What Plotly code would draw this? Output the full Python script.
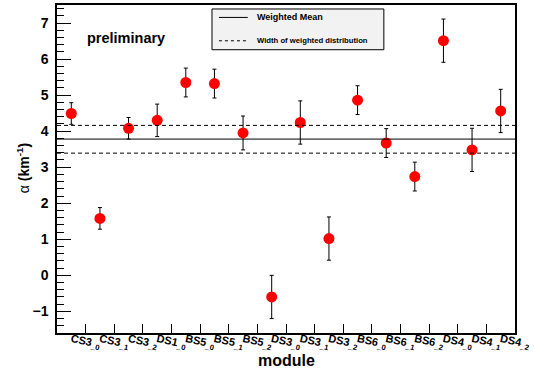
import plotly.graph_objects as go

modules = ["CS3_0", "CS3_1", "CS3_2", "DS1_0", "BS5_0", "BS5_1", "BS5_2", "DS3_0",
           "DS3_1", "DS3_2", "BS6_0", "BS6_1", "BS6_2", "DS4_0", "DS4_1", "DS4_2"]
alpha = [4.49, 1.58, 4.08, 4.30, 5.35, 5.32, 3.95, -0.60,
         4.24, 1.02, 4.86, 3.67, 2.74, 6.51, 3.48, 4.56]
alpha_err = [0.30, 0.30, 0.30, 0.45, 0.40, 0.40, 0.47, 0.60,
             0.60, 0.60, 0.40, 0.40, 0.40, 0.60, 0.60, 0.60]
weighted_mean = 3.78
width_low = 3.39
width_high = 4.16

tick_labels = [m.split("_")[0] + "<sub>_" + m.split("_")[1] + "</sub>" for m in modules]

FONT = "Liberation Sans, Arial, Helvetica, sans-serif"

fig = go.Figure()
fig.add_trace(go.Scatter(
    x=modules, y=alpha, mode="markers",
    marker=dict(color="#ff0000", size=11, line=dict(width=0)),
    error_y=dict(type="data", array=alpha_err, color="black", thickness=1, width=2),
    showlegend=False,
))

# horizontal lines for mean and width
fig.add_shape(type="line", xref="paper", x0=0, x1=1, yref="y", y0=weighted_mean, y1=weighted_mean,
              line=dict(color="black", width=1))
for v in (width_low, width_high):
    fig.add_shape(type="line", xref="paper", x0=0, x1=1, yref="y", y0=v, y1=v,
                  line=dict(color="black", width=1, dash="4px,3px"))

# legend box
L, R, T, B = 57, 518, 3, 333
def px(x):
    return (x - L) / (R - L)
def py(y):
    return (B - y) / (B - T)

fig.add_shape(type="rect", xref="paper", yref="paper", x0=px(213), x1=px(386), y0=py(48), y1=py(7),
              fillcolor="#f2f2f2", line=dict(color="black", width=1))
fig.add_shape(type="line", xref="paper", yref="paper", x0=px(220), x1=px(249), y0=py(15.5), y1=py(15.5),
              line=dict(color="black", width=1))
fig.add_shape(type="line", xref="paper", yref="paper", x0=px(220), x1=px(249), y0=py(39), y1=py(39),
              line=dict(color="black", width=1, dash="3px,3px"))
fig.add_annotation(xref="paper", yref="paper", x=px(256), y=py(15.5), text="Weighted Mean",
                   showarrow=False, xanchor="left", yanchor="middle",
                   font=dict(family=FONT, size=9, color="black", weight="bold"))
fig.add_annotation(xref="paper", yref="paper", x=px(256), y=py(39), text="Width of weighted distribution",
                   showarrow=False, xanchor="left", yanchor="middle",
                   font=dict(family=FONT, size=7.7, color="black", weight="bold"))

fig.add_annotation(xref="paper", yref="paper", x=px(85), y=py(36), text="preliminary",
                   showarrow=False, xanchor="left", yanchor="middle",
                   font=dict(family=FONT, size=14.5, color="black", weight="bold"))

fig.add_annotation(xref="paper", yref="paper", x=px(23), y=py(167),
                   text="α <b>(km<sup>-1</sup>)</b>", textangle=-90,
                   showarrow=False, xanchor="center", yanchor="middle",
                   font=dict(family=FONT, size=14, color="black"))
fig.add_annotation(xref="paper", yref="paper", x=px(288), y=py(361), text="module",
                   showarrow=False, xanchor="center", yanchor="middle",
                   font=dict(family=FONT, size=16, color="black", weight="bold"))

fig.update_xaxes(
    type="category", range=[-0.5, 15.5],
    tickmode="array", tickvals=modules, ticktext=tick_labels,
    tickson="boundaries", ticks="inside", ticklen=9, tickcolor="black", tickwidth=1,
    tickangle=12, tickfont=dict(family=FONT, size=11, color="black", weight="bold"),
    ticklabelstandoff=-6,
    showline=True, linecolor="black", linewidth=1.5, mirror=True,
    showgrid=False, zeroline=False,
)
fig.update_yaxes(
    range=[-1.6, 7.5], dtick=1, tick0=0,
    ticks="inside", ticklen=14, tickcolor="black", tickwidth=1,
    minor=dict(dtick=0.2, ticks="inside", ticklen=7, tickcolor="black", tickwidth=1, showgrid=False),
    tickfont=dict(family=FONT, size=14, color="black", weight="bold"),
    ticklabelstandoff=4,
    showline=True, linecolor="black", linewidth=1.5, mirror=True,
    showgrid=False, zeroline=False,
)
fig.update_layout(
    width=534, height=370,
    margin=dict(l=L, r=534 - R, t=T, b=370 - B),
    paper_bgcolor="white", plot_bgcolor="white",
    font=dict(family=FONT),
)
fig.write_html("out.html")
